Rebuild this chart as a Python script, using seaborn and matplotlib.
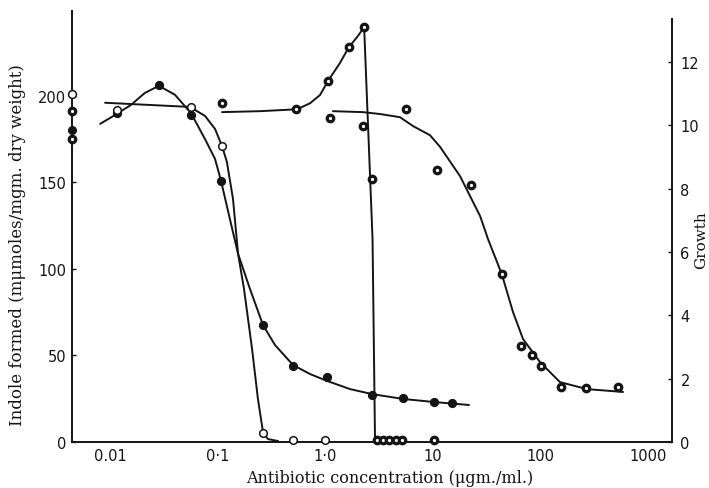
import pandas as pd
import matplotlib.pyplot as plt
import seaborn as sns

# values (x = antibiotic concentration, ug/ml)
# control readings (no antibiotic) sit on the y axis, left-axis units
ctrl_x = [0.00445, 0.00445, 0.00445, 0.00445]
ctrl_y = [201, 191, 180, 175]
ctrl_kind = ["open", "dot", "filled", "dot"]

# indole, first antibiotic (filled circles), left axis
fill_x = [0.0116, 0.0285, 0.057, 0.107, 0.264, 0.50, 1.04, 2.72, 5.3, 10.3, 15.0]
fill_y = [190, 206, 189, 151, 67.5, 44, 37.5, 27, 25.5, 23, 22.5]
fill_cx = [0.0081, 0.0116, 0.0157, 0.0211, 0.0285, 0.0402, 0.0566, 0.0764, 0.0946,
           0.1076, 0.130, 0.155, 0.200, 0.237, 0.264, 0.341, 0.502, 0.722, 1.04,
           1.70, 2.72, 5.28, 10.3, 21.7]
fill_cy = [183.8, 189.6, 194.8, 201.7, 205.8, 200.6, 190, 175, 163.6,
           150.9, 128.9, 108.7, 88.4, 75.7, 67.6, 56.1, 44.5, 39.3, 35.3,
           30.6, 27.7, 24.9, 23.1, 21.4]

# indole, second antibiotic (open circles), left axis
open_x = [0.0116, 0.0566, 0.110, 0.264, 0.50, 1.0]
open_y = [192, 193.5, 171, 5.5, 1, 1]
open_cx = [0.0090, 0.0553, 0.0764, 0.0946, 0.110, 0.122, 0.139, 0.155, 0.176,
           0.209, 0.237, 0.264, 0.294, 0.364]
open_cy = [196, 193.6, 188.4, 180.9, 171, 161.8, 140.5, 108.7, 88.4,
           53.8, 24.9, 5.8, 1.7, 0.6]

# growth with the second antibiotic (ringed circles), right axis
peak_x = [0.110, 0.54, 1.06, 1.66, 2.29, 2.75, 3.01, 3.44, 3.92, 4.52, 5.14, 10.2]
peak_y = [10.7, 10.5, 11.39, 12.46, 13.09, 8.3, 0.05, 0.05, 0.05, 0.05, 0.05, 0.05]
peak_cx = [0.110, 0.248, 0.547, 0.723, 0.895, 1.06, 1.37, 1.66, 1.98, 2.30, 2.753, 2.904]
peak_cy = [10.41, 10.44, 10.5, 10.69, 10.95, 11.39, 11.96, 12.46, 12.78, 13.09, 6.4, 0]

# growth with the first antibiotic (ringed circles), right axis
sig_x = [1.11, 2.24, 5.63, 10.9, 22.6, 43.7, 65.6, 83.5, 102, 155, 264, 527]
sig_y = [10.22, 9.97, 10.5, 8.58, 8.11, 5.30, 3.04, 2.75, 2.41, 1.74, 1.70, 1.74]
sig_cx = [1.18, 2.24, 3.23, 4.95, 6.55, 9.42, 11.7, 17.9, 27.5, 32.6, 43.7, 55.6,
          68.9, 99.1, 152, 271, 586]
sig_cy = [10.44, 10.41, 10.35, 10.25, 9.97, 9.68, 9.31, 8.39, 7.13, 6.40, 5.30, 4.10,
          3.25, 2.52, 1.89, 1.67, 1.58]

x_ticks = [0.01, 0.1, 1, 10, 100, 1000]
x_labels = ["0.01", "0·1", "1·0", "10", "100", "1000"]
left_ticks = [0, 50, 100, 150, 200]
right_ticks = [0, 2, 4, 6, 8, 10, 12]

sns.set_theme(style="white")
plt.rcParams["font.family"] = ["DejaVu Sans"]
ink = "#141414"

fig = plt.figure(figsize=(7.09, 4.89), dpi=100)
ax = fig.add_axes([0.1016, 0.094, 0.8463, 0.8814])
ax.set_xscale("log")
ax2 = ax.twinx()

marker_style = {
    "filled": dict(color=ink, edgecolor=ink, linewidth=0.8),
    "open": dict(color="white", edgecolor=ink, linewidth=1.1),
    "dot": dict(color="white", edgecolor=ink, linewidth=2.3),
}

line_kw = dict(color=ink, linewidth=1.4, estimator=None, sort=False, legend=False)
sns.lineplot(x=fill_cx, y=fill_cy, ax=ax, **line_kw)
sns.lineplot(x=open_cx, y=open_cy, ax=ax, **line_kw)
sns.lineplot(x=peak_cx, y=peak_cy, ax=ax2, **line_kw)
sns.lineplot(x=sig_cx, y=sig_cy, ax=ax2, **line_kw)

sns.scatterplot(x=fill_x, y=fill_y, ax=ax, s=34, zorder=5, clip_on=False, **marker_style["filled"])
sns.scatterplot(x=open_x, y=open_y, ax=ax, s=30, zorder=5, clip_on=False, **marker_style["open"])
sns.scatterplot(x=peak_x, y=peak_y, ax=ax2, s=22, zorder=5, clip_on=False, **marker_style["dot"])
sns.scatterplot(x=sig_x, y=sig_y, ax=ax2, s=22, zorder=5, clip_on=False, **marker_style["dot"])
for kind in ["filled", "open", "dot"]:
    cx = [x for x, k in zip(ctrl_x, ctrl_kind) if k == kind]
    cy = [y for y, k in zip(ctrl_y, ctrl_kind) if k == kind]
    s = 22 if kind == "dot" else 32
    sns.scatterplot(x=cx, y=cy, ax=ax, s=s, zorder=5, clip_on=False, **marker_style[kind])

ax.set_xlim(0.00444, 1671)
ax.set_ylim(0, 249)
ax2.set_ylim(0, 13.6)

ax.set_xticks(x_ticks)
ax.set_xticklabels(x_labels)
ax.xaxis.set_minor_locator(plt.NullLocator())
ax.set_yticks(left_ticks)
ax2.set_yticks(right_ticks)

for a in (ax, ax2):
    a.tick_params(direction="in", length=3, width=1, colors=ink, labelsize=10.5, pad=4)
    a.grid(False)
ax2.tick_params(axis="y", pad=6)

for side in ["top", "right"]:
    ax.spines[side].set_visible(False)
for side in ["top", "left", "bottom"]:
    ax2.spines[side].set_visible(False)
ax2.spines["right"].set_bounds(0, 13.35)
for sp in [ax.spines["left"], ax.spines["bottom"], ax2.spines["right"]]:
    sp.set_color(ink)
    sp.set_linewidth(1.4)

label_font = dict(family="DejaVu Serif", size=11.5, color=ink)
ax.set_xlabel("Antibiotic concentration (μgm./ml.)", **label_font)
ax.set_ylabel("Indole formed (mμmoles/mgm. dry weight)", family="DejaVu Serif", size=12, color=ink)
ax2.set_ylabel("Growth", family="DejaVu Serif", size=11, color=ink)
ax.xaxis.set_label_coords(0.53, -0.063)
ax.yaxis.set_label_coords(-0.076, 0.459)
ax2.yaxis.set_label_coords(1.037, 0.471)

fig.savefig("out.png", dpi=100, facecolor="white")
